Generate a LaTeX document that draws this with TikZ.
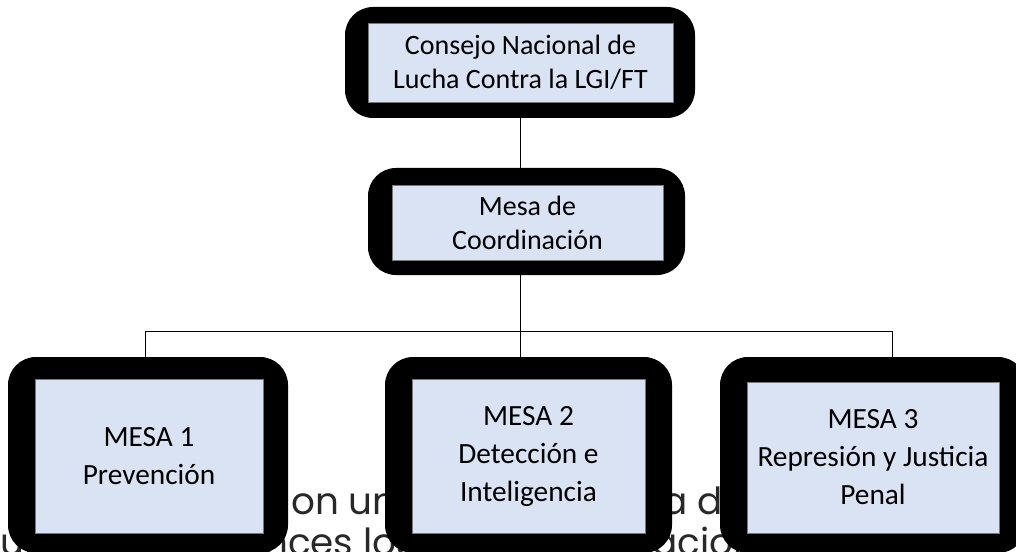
\documentclass[tikz,border=0pt]{standalone}
\usepackage{fontspec}
\setmainfont{Carlito}
\newfontfamily\bodyfont{Poppins}
\usepackage{xcolor}
\definecolor{panelfill}{RGB}{218,227,243}
\definecolor{panelline}{RGB}{120,120,120}
\definecolor{bodygray}{RGB}{40,40,40}

\begin{document}
\begin{tikzpicture}[x=0.75pt,y=0.75pt,yscale=-1,xscale=1,
  frame/.style={fill=black,draw=none,rounded corners=21pt,inner sep=0pt},
  panel/.style={fill=panelfill,draw=panelline,line width=0.6pt,inner sep=0pt,align=center,font=\fontsize{21}{25.5}\selectfont},
  panelbig/.style={panel,font=\fontsize{22}{28.5}\selectfont},
  bodytext/.style={inner sep=0pt,text=bodygray,font=\bodyfont\fontsize{28}{34}\selectfont}]
\useasboundingbox (0,0) rectangle (1016,552);

% Text Node (page text behind the chart)
\node [bodytext,anchor=base east] (txtA) at (3,514) {u};
\node [bodytext,anchor=base west] (txtB) at (291,514) {on una};
\node [bodytext,anchor=base west] (txtC) at (662,514) {a de};
\node [bodytext,anchor=base west] (txtD) at (0,555) {un};
\node [bodytext,anchor=base west] (txtE) at (264,555) {nces los};
\node [bodytext,anchor=base west] (txtF) at (652,555) {acion};

%Shape: Rounded Rect [consejo]
\node [frame,minimum width=262.5pt,minimum height=83.25pt] (cons) at (520,62.5) {};
\node [panel,minimum width=228.75pt,minimum height=59.25pt] (consText) at (520.5,62.5) {Consejo Nacional de\\Lucha Contra la LGI/FT};

%Shape: Rounded Rect [mesa de coordinacion]
\node [frame,minimum width=237.75pt,minimum height=80.25pt] (coord) at (526.5,221.5) {};
\node [panel,minimum width=203.25pt,minimum height=56.25pt] (coordText) at (527.5,222.5) {Mesa de\\Coordinación};

%Shape: Rounded Rect [mesas]
\node [frame,minimum width=210pt,minimum height=147pt] (m1) at (148,455) {};
\node [panelbig,minimum width=171pt,minimum height=115.5pt] (m1Text) at (149,456) {MESA 1\\Prevención};
\node [frame,minimum width=215.25pt,minimum height=147pt] (m2) at (528.5,455) {};
\node [panelbig,minimum width=174.75pt,minimum height=115.5pt] (m2Text) at (528.5,456) {MESA 2\\Detección e\\Inteligencia};
\node [frame,minimum width=229.5pt,minimum height=147pt] (m3) at (873,455) {};
\node [panelbig,minimum width=189pt,minimum height=113.25pt] (m3Text) at (873,457.5) {MESA 3\\Represión y Justicia\\Penal};

%Straight Lines
\coordinate (busL) at (145,331);
\coordinate (busR) at (892,331);
\draw [line width=0.75] (cons.south) -- (cons.south |- coord.north);
\draw [line width=0.75] (cons.south |- coord.south) -- (cons.south |- m2.north);
\draw [line width=0.75] (busL |- m1.north) -- (busL) -- (busR) -- (busR |- m3.north);

\end{tikzpicture}
\end{document}
